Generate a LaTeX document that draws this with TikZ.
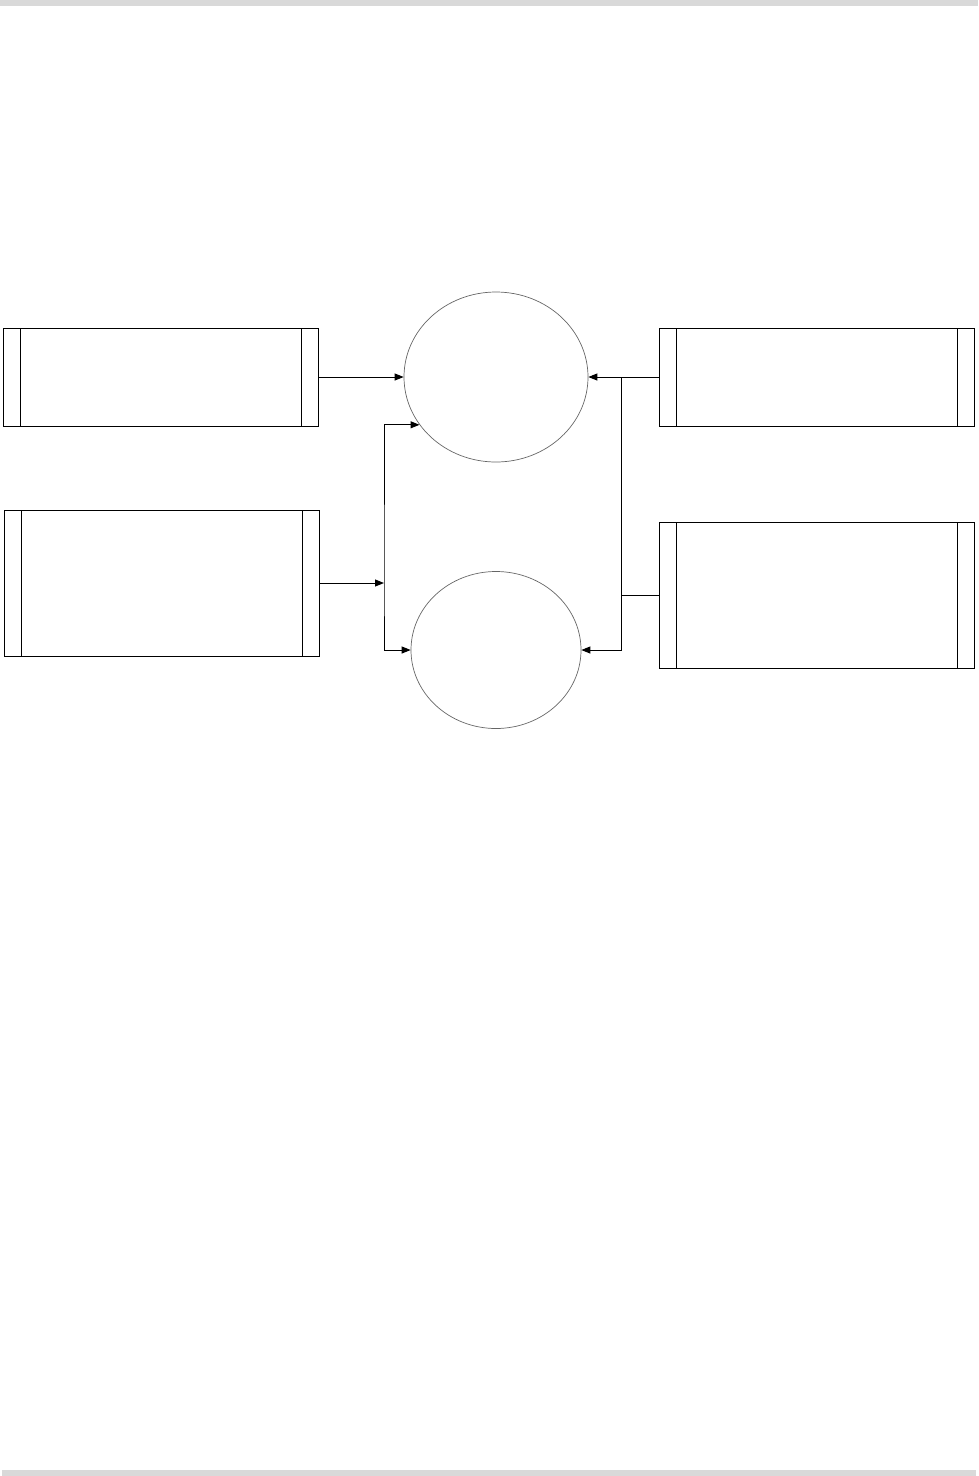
\documentclass[tikz,border=0pt]{standalone}
\usepackage{tikz}
\usetikzlibrary{arrows.meta,shapes.geometric}
\tikzset{
  >={Triangle[length=9pt,width=7pt]},
  procbox/.style={draw, line width=1pt, inner sep=0pt, minimum height=#1,
    minimum width=315pt,
    path picture={
      \draw[line width=1pt] ([xshift=17pt]path picture bounding box.north west) -- ([xshift=17pt]path picture bounding box.south west);
      \draw[line width=1pt] ([xshift=-17pt]path picture bounding box.north east) -- ([xshift=-17pt]path picture bounding box.south east);
    }},
  procbox/.default=98pt,
  store/.style={ellipse, draw=black!60, line width=0.7pt, inner sep=0pt},
  link/.style={line width=1pt},
  band/.style={fill=black!15, draw=none},
}
\begin{document}
\begin{tikzpicture}[x=1pt, y=-1pt]
  \useasboundingbox (0,0) rectangle (978,1476);
  \fill[band] (0,0) rectangle (978,6);
  \fill[band] (2,1470) rectangle (976,1476);

  \node[procbox] (lt) at (160.5,377) {};
  \node[procbox=146pt] (lb) at (161.5,583) {};
  \node[procbox] (rt) at (817,377) {};
  \node[procbox=146pt] (rb) at (817,595) {};

  \node[store, minimum width=184pt, minimum height=170pt] (top) at (496,377) {};
  \node[store, minimum width=170pt, minimum height=157pt] (bot) at (496,650) {};

  \coordinate (lj) at (384,583);
  \coordinate (rj) at (621,595);

  % left side
  \draw[link,->] (lt.east) -- (top.west);
  \draw[link,->] (lb) -- (lj);
  \draw[link,<->] (top.212) -| (lj) |- (bot.west);

  % right side
  \draw[link,->] (rt.west) -- (top.east);
  \draw[link,->] (rt.west -| rj) |- (bot.east);
  \draw[link] (rb) -- (rj);
\end{tikzpicture}
\end{document}
